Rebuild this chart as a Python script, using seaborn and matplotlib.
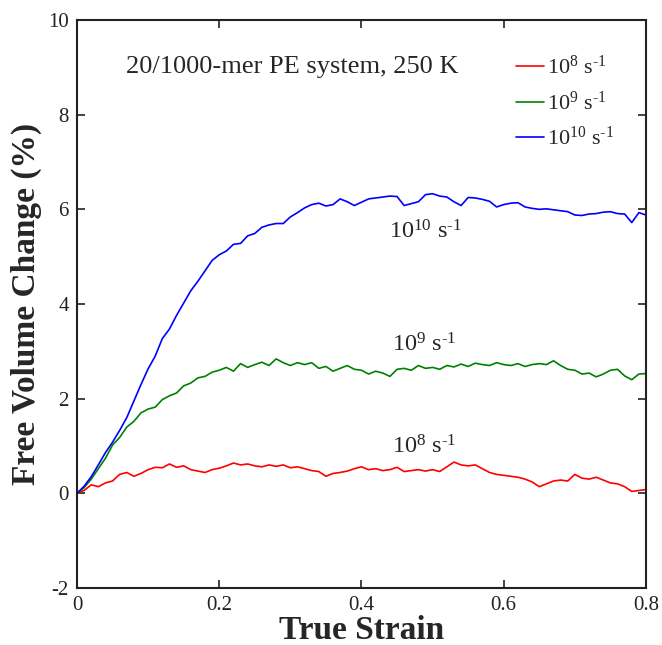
import numpy as np
import pandas as pd
import matplotlib
matplotlib.use('Agg')
import matplotlib.pyplot as plt
import seaborn as sns

# strain values (0 to 0.8, step 0.01)
strain = [round(i * 0.01, 2) for i in range(81)]

# free volume change (%)
fv_1e8 = [0.00, 0.06, 0.18, 0.14, 0.22, 0.26, 0.40, 0.44, 0.36, 0.42,
          0.50, 0.55, 0.54, 0.62, 0.55, 0.58, 0.50, 0.47, 0.44, 0.50,
          0.53, 0.58, 0.64, 0.60, 0.62, 0.58, 0.56, 0.60, 0.57, 0.60,
          0.54, 0.56, 0.52, 0.48, 0.46, 0.36, 0.42, 0.44, 0.47, 0.52,
          0.56, 0.50, 0.52, 0.48, 0.50, 0.55, 0.46, 0.48, 0.50, 0.47,
          0.50, 0.46, 0.56, 0.66, 0.60, 0.58, 0.60, 0.52, 0.44, 0.40,
          0.38, 0.36, 0.34, 0.30, 0.24, 0.14, 0.20, 0.26, 0.28, 0.26,
          0.40, 0.32, 0.30, 0.34, 0.28, 0.22, 0.20, 0.14, 0.04, 0.06,
          0.08]

fv_1e9 = [0.00, 0.12, 0.30, 0.52, 0.74, 1.02, 1.18, 1.40, 1.52, 1.70,
          1.78, 1.82, 1.98, 2.06, 2.12, 2.27, 2.33, 2.44, 2.47, 2.56,
          2.60, 2.66, 2.58, 2.74, 2.66, 2.72, 2.77, 2.70, 2.84, 2.76,
          2.70, 2.76, 2.72, 2.76, 2.64, 2.68, 2.58, 2.64, 2.70, 2.62,
          2.60, 2.52, 2.58, 2.54, 2.47, 2.62, 2.64, 2.60, 2.70, 2.64,
          2.66, 2.62, 2.70, 2.67, 2.73, 2.68, 2.75, 2.72, 2.70, 2.76,
          2.72, 2.70, 2.74, 2.68, 2.72, 2.74, 2.72, 2.80, 2.70, 2.62,
          2.60, 2.52, 2.54, 2.46, 2.52, 2.60, 2.62, 2.48, 2.40, 2.52,
          2.53]

fv_1e10 = [0.00, 0.15, 0.35, 0.60, 0.86, 1.08, 1.33, 1.60, 1.95, 2.30,
           2.63, 2.90, 3.27, 3.47, 3.76, 4.02, 4.28, 4.48, 4.70, 4.92,
           5.04, 5.12, 5.26, 5.28, 5.44, 5.49, 5.62, 5.67, 5.70, 5.70,
           5.84, 5.93, 6.03, 6.10, 6.13, 6.07, 6.10, 6.22, 6.16, 6.08,
           6.15, 6.22, 6.24, 6.26, 6.28, 6.27, 6.08, 6.12, 6.16, 6.31,
           6.33, 6.28, 6.26, 6.16, 6.08, 6.25, 6.24, 6.21, 6.17, 6.05,
           6.10, 6.13, 6.14, 6.05, 6.02, 6.00, 6.01, 5.99, 5.97, 5.95,
           5.88, 5.87, 5.90, 5.91, 5.94, 5.95, 5.91, 5.90, 5.72, 5.93,
           5.88]

rates = ['1e8', '1e9', '1e10']
rate_labels = [r'$10^{8}$ s$^{\text{-1}}$', r'$10^{9}$ s$^{\text{-1}}$',
               r'$10^{10}$ s$^{\text{-1}}$']
colors = ['#ff0000', '#008000', '#0000ff']

df = pd.DataFrame({
    'strain': strain * 3,
    'fv': fv_1e8 + fv_1e9 + fv_1e10,
    'rate': [r for r in rates for _ in strain],
})

sns.set_style('ticks')
plt.rcParams['font.family'] = ['Liberation Serif', 'DejaVu Serif']
plt.rcParams['mathtext.fontset'] = 'custom'
plt.rcParams['mathtext.rm'] = 'Liberation Serif'
plt.rcParams['mathtext.it'] = 'Liberation Serif:italic'
plt.rcParams['mathtext.bf'] = 'Liberation Serif:bold'
plt.rcParams['axes.unicode_minus'] = False

fig, ax = plt.subplots(figsize=(6.62, 6.45), dpi=100)
fig.subplots_adjust(left=0.1163, right=0.9758, top=0.969, bottom=0.0884)

sns.lineplot(data=df, x='strain', y='fv', hue='rate', hue_order=rates,
             palette=colors, linewidth=1.2, ax=ax, legend=False)

ax.set_xlim(0, 0.8)
ax.set_ylim(-2, 10)
ax.set_xticks([0, 0.2, 0.4, 0.6, 0.8])
ax.set_xticklabels(['0', '0.2', '0.4', '0.6', '0.8'])
ax.set_yticks([-2, 0, 2, 4, 6, 8, 10])
ax.tick_params(direction='in', length=6, width=1.2, labelsize=15,
               top=True, right=True, pad=6, colors='#222222')
for s in ax.spines.values():
    s.set_linewidth(1.5)
    s.set_color('#222222')

ax.set_xlabel('True Strain', fontsize=24, fontweight='bold', labelpad=0)
ax.set_ylabel('Free Volume Change (%)', fontsize=24, fontweight='bold', labelpad=4)

ax.text(0.302, 9.0, '20/1000-mer PE system, 250 K', fontsize=19,
        ha='center', va='center')

ax.text(0.49, 5.52, rate_labels[2], fontsize=17.5, ha='center', va='center')
ax.text(0.488, 3.13, rate_labels[1], fontsize=17.5, ha='center', va='center')
ax.text(0.488, 0.98, rate_labels[0], fontsize=17.5, ha='center', va='center')

handles = [plt.Line2D([], [], color=c, linewidth=1.2) for c in colors]
ax.legend(handles, rate_labels, loc='center left', bbox_to_anchor=(0.772, 0.854),
          frameon=False, fontsize=16, handlelength=1.25, handletextpad=0.15,
          labelspacing=0.55, borderpad=0, borderaxespad=0)

fig.savefig('out.png', dpi=100)
